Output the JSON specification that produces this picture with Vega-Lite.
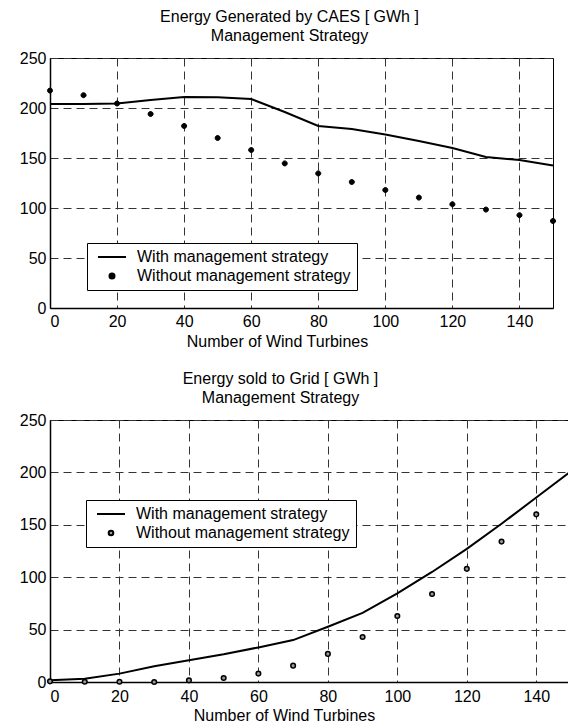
{
  "$schema": "https://vega.github.io/schema/vega-lite/v6.json",
  "padding": {"left": 18, "top": 8, "right": 0, "bottom": 0},
  "spacing": 20,
  "datasets": {
    "genWith": [
      {"turbines": 0, "energy": 204}, {"turbines": 10, "energy": 204}, {"turbines": 20, "energy": 204.5},
      {"turbines": 30, "energy": 208}, {"turbines": 40, "energy": 211}, {"turbines": 50, "energy": 210.7},
      {"turbines": 60, "energy": 209}, {"turbines": 70, "energy": 196}, {"turbines": 80, "energy": 182},
      {"turbines": 90, "energy": 179}, {"turbines": 100, "energy": 173.5}, {"turbines": 110, "energy": 167},
      {"turbines": 120, "energy": 160}, {"turbines": 130, "energy": 151}, {"turbines": 140, "energy": 148},
      {"turbines": 150, "energy": 142.5}
    ],
    "genWithout": [
      {"turbines": 0, "energy": 217.4, "series": "Without management strategy"},
      {"turbines": 10, "energy": 212.8, "series": "Without management strategy"},
      {"turbines": 20, "energy": 204.5, "series": "Without management strategy"},
      {"turbines": 30, "energy": 194, "series": "Without management strategy"},
      {"turbines": 40, "energy": 182, "series": "Without management strategy"},
      {"turbines": 50, "energy": 170, "series": "Without management strategy"},
      {"turbines": 60, "energy": 158, "series": "Without management strategy"},
      {"turbines": 70, "energy": 144.6, "series": "Without management strategy"},
      {"turbines": 80, "energy": 134.6, "series": "Without management strategy"},
      {"turbines": 90, "energy": 126, "series": "Without management strategy"},
      {"turbines": 100, "energy": 118, "series": "Without management strategy"},
      {"turbines": 110, "energy": 110.4, "series": "Without management strategy"},
      {"turbines": 120, "energy": 103.7, "series": "Without management strategy"},
      {"turbines": 130, "energy": 98.4, "series": "Without management strategy"},
      {"turbines": 140, "energy": 92.8, "series": "Without management strategy"},
      {"turbines": 150, "energy": 87, "series": "Without management strategy"}
    ],
    "gridWith": [
      {"turbines": 0, "energy": 1.6}, {"turbines": 10, "energy": 3.2}, {"turbines": 20, "energy": 8},
      {"turbines": 30, "energy": 15}, {"turbines": 40, "energy": 20.8}, {"turbines": 50, "energy": 26.5},
      {"turbines": 60, "energy": 33}, {"turbines": 70, "energy": 40}, {"turbines": 80, "energy": 52.7},
      {"turbines": 90, "energy": 66}, {"turbines": 100, "energy": 84.6}, {"turbines": 110, "energy": 105},
      {"turbines": 120, "energy": 127}, {"turbines": 130, "energy": 151}, {"turbines": 140, "energy": 176},
      {"turbines": 150, "energy": 201}
    ],
    "gridWithout": [
      {"turbines": 0, "energy": 0.6, "series": "Without management strategy"},
      {"turbines": 10, "energy": 0.3, "series": "Without management strategy"},
      {"turbines": 20, "energy": 0.3, "series": "Without management strategy"},
      {"turbines": 30, "energy": 0, "series": "Without management strategy"},
      {"turbines": 40, "energy": 1.6, "series": "Without management strategy"},
      {"turbines": 50, "energy": 3.8, "series": "Without management strategy"},
      {"turbines": 60, "energy": 8, "series": "Without management strategy"},
      {"turbines": 70, "energy": 15.6, "series": "Without management strategy"},
      {"turbines": 80, "energy": 26.8, "series": "Without management strategy"},
      {"turbines": 90, "energy": 43, "series": "Without management strategy"},
      {"turbines": 100, "energy": 63, "series": "Without management strategy"},
      {"turbines": 110, "energy": 84, "series": "Without management strategy"},
      {"turbines": 120, "energy": 108, "series": "Without management strategy"},
      {"turbines": 130, "energy": 134, "series": "Without management strategy"},
      {"turbines": 140, "energy": 160, "series": "Without management strategy"},
      {"turbines": 150, "energy": 188, "series": "Without management strategy"}
    ]
  },
  "vconcat": [
    {
      "width": 503,
      "height": 250,
      "title": {"text": ["Energy Generated by CAES [ GWh ]", "Management Strategy"], "dx": -12, "offset": 6},
      "encoding": {
        "x": {"field": "turbines", "type": "quantitative", "scale": {"domain": [0, 150], "nice": false},
              "axis": {"values": [0, 20, 40, 60, 80, 100, 120, 140], "title": "Number of Wind Turbines", "titleX": 227}},
        "y": {"field": "energy", "type": "quantitative", "scale": {"domain": [0, 250], "nice": false},
              "axis": {"values": [0, 50, 100, 150, 200, 250], "title": null}}
      },
      "layer": [
        {"data": {"name": "genWith"}, "mark": {"type": "line", "color": "black", "strokeWidth": 2}},
        {
          "data": {"name": "genWithout"},
          "mark": {"type": "point", "filled": false, "color": "black", "fill": "black", "fillOpacity": 1, "opacity": 1, "strokeWidth": 1, "size": 196},
          "encoding": {
            "shape": {"field": "series", "type": "nominal",
              "scale": {"domain": ["With management strategy", "Without management strategy"],
                        "range": ["M-2,0H2", "M-0.36,0A0.36,0.36 0 1,0 0.36,0A0.36,0.36 0 1,0 -0.36,0Z"]},
              "legend": {"orient": "none", "legendX": 37, "legendY": 185, "title": null, "strokeColor": "black", "fillColor": "white",
                         "padding": 6, "labelFontSize": 16, "symbolSize": 196, "symbolStrokeWidth": 2,
                         "symbolOffset": 11, "labelOffset": 17, "rowPadding": 3, "labelLimit": 400,
                         "encode": {"symbols": {"update": {"stroke": {"value": "black"}, "strokeWidth": {"value": 2}, "fill": {"value": "black"}, "opacity": {"value": 1}}}}}}
          }
        }
      ]
    },
    {
      "width": 521,
      "height": 262,
      "title": {"text": ["Energy sold to Grid [ GWh ]", "Management Strategy"], "dx": -30, "offset": 6},
      "encoding": {
        "x": {"field": "turbines", "type": "quantitative", "scale": {"domain": [0, 150], "nice": false},
              "axis": {"values": [0, 20, 40, 60, 80, 100, 120, 140], "title": "Number of Wind Turbines", "titleX": 234, "titlePadding": 3, "labelPadding": 6}},
        "y": {"field": "energy", "type": "quantitative", "scale": {"domain": [0, 250], "nice": false},
              "axis": {"values": [0, 50, 100, 150, 200, 250], "title": null}}
      },
      "layer": [
        {"data": {"name": "gridWith"}, "mark": {"type": "line", "color": "black", "strokeWidth": 2}},
        {
          "data": {"name": "gridWithout"},
          "mark": {"type": "point", "filled": false, "color": "black", "fill": "#999999", "fillOpacity": 1, "opacity": 1, "strokeWidth": 1.5, "size": 196},
          "encoding": {
            "shape": {"field": "series", "type": "nominal",
              "scale": {"domain": ["With management strategy", "Without management strategy"],
                        "range": ["M-2,0H2", "M-0.33,0A0.33,0.33 0 1,0 0.33,0A0.33,0.33 0 1,0 -0.33,0Z"]},
              "legend": {"orient": "none", "legendX": 36, "legendY": 80, "title": null, "strokeColor": "black", "fillColor": "white",
                         "padding": 6, "labelFontSize": 16, "symbolSize": 196, "symbolStrokeWidth": 2,
                         "symbolOffset": 11, "labelOffset": 17, "rowPadding": 3, "labelLimit": 400,
                         "encode": {"symbols": {"update": {"stroke": {"value": "black"}, "strokeWidth": {"value": 2}, "fill": {"value": "#999999"}, "opacity": {"value": 1}}}}}}
          }
        }
      ]
    }
  ],
  "resolve": {"scale": {"shape": "independent"}, "legend": {"shape": "independent"}},
  "config": {
    "font": "Liberation Sans",
    "view": {"stroke": "black", "strokeWidth": 1},
    "axis": {
      "grid": true, "gridDash": [8, 5], "gridColor": "#333333", "gridWidth": 1, "gridOpacity": 1,
      "domainColor": "black", "domainWidth": 1.5, "ticks": false,
      "labelFontSize": 16, "labelColor": "black", "labelPadding": 5, "labelFont": "Liberation Sans",
      "titleFontSize": 16, "titleFontWeight": "normal", "titleColor": "black", "titlePadding": 4, "titleFont": "Liberation Sans"
    },
    "axisY": {"labelPadding": 4},
    "legend": {"labelColor": "black", "labelFont": "Liberation Sans"},
    "title": {"fontSize": 16, "fontWeight": "normal", "lineHeight": 19, "color": "black", "font": "Liberation Sans"}
  }
}
